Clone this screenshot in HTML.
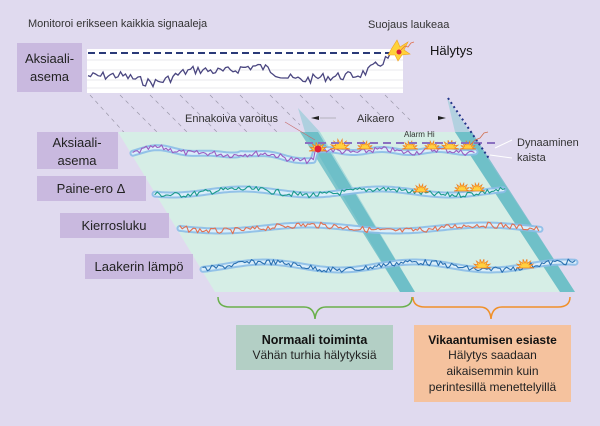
<!DOCTYPE html>
<html><head><meta charset="utf-8">
<style>
html,body{margin:0;padding:0;background:#e0daef;}
svg{display:block;font-family:"Liberation Sans",sans-serif;}
</style></head>
<body>
<svg id="s" width="600" height="426" viewBox="0 0 600 426" xmlns="http://www.w3.org/2000/svg">
<rect width="600" height="426" fill="#e0daef"/>
<g stroke="#9a97a8" stroke-width="0.7" stroke-dasharray="4,4" fill="none">
<line x1="90" y1="95" x2="140" y2="150"/>
<line x1="120" y1="95" x2="175" y2="150"/>
<line x1="150" y1="95" x2="205" y2="150"/>
<line x1="180" y1="95" x2="235" y2="150"/>
<line x1="210" y1="95" x2="265" y2="150"/>
<line x1="240" y1="95" x2="280" y2="135"/>
<line x1="270" y1="95" x2="300" y2="125"/>
<line x1="300" y1="95" x2="315" y2="110"/>
<line x1="330" y1="95" x2="345" y2="110"/>
<line x1="360" y1="95" x2="380" y2="115"/>
<line x1="385" y1="95" x2="410" y2="120"/>
</g>
<rect x="87" y="49" width="316" height="44" fill="#fff"/>
<g stroke="#e3e3e8" stroke-width="0.7">
<line x1="87" y1="60" x2="403" y2="60"/><line x1="87" y1="70" x2="403" y2="70"/><line x1="87" y1="80" x2="403" y2="80"/><line x1="87" y1="88" x2="403" y2="88"/>
</g>
<line x1="88" y1="53" x2="398" y2="53" stroke="#2a3a78" stroke-width="2" stroke-dasharray="7,4"/>
<path id="topw" fill="none" stroke="#4a4680" stroke-width="1.3"/>
<polygon points="392,48 397,40 400,47 408,42 404,50 410,54 402,55 398,61 395,55 388,55" fill="#ffd23a" stroke="#f0a020" stroke-width="0.6"/>
<circle cx="399" cy="52" r="2.5" fill="#d8203a"/>
<polyline points="401,50 405,46 408,47 411,43 414,42" fill="none" stroke="#e07050" stroke-width="0.8"/>
<rect x="17" y="43" width="65" height="49" fill="#c9b9df"/>
<text x="49.5" y="63" font-size="13" text-anchor="middle" fill="#222">Aksiaali-</text>
<text x="49.5" y="81" font-size="13" text-anchor="middle" fill="#222">asema</text>
<text x="28" y="27" font-size="11" fill="#333">Monitoroi erikseen kaikkia signaaleja</text>
<text x="368" y="28" font-size="11" fill="#333">Suojaus laukeaa</text>
<text x="430" y="55" font-size="13" fill="#111">Hälytys</text>
<polygon points="118,132 470,132 575,292 215,292" fill="#d6eee6"/>
<polygon points="298,108 320,132 415,292 400,292 305,132" fill="#7cc6cf" opacity="0.5"/>
<polygon points="300,132 318,132 415,292 400,292" fill="#4fb0bf" opacity="0.65"/>
<polygon points="447,98 470,132 575,292 560,292 455,132" fill="#7cc6cf" opacity="0.45"/>
<polygon points="455,132 472,132 575,292 560,292" fill="#4fb0bf" opacity="0.65"/>
<g id="waves"></g>
<line x1="305" y1="143" x2="500" y2="143" stroke="#8a70c0" stroke-width="2" stroke-dasharray="8,5"/>
<line x1="448" y1="98" x2="490" y2="160" stroke="#23348a" stroke-width="2" stroke-dasharray="2,3"/>
<circle cx="318" cy="149" r="3.5" fill="#e0203a"/>
<line x1="285" y1="122" x2="315" y2="140" stroke="#c86a6a" stroke-width="0.6"/>
<polyline points="470,145 475,140 480,138 484,133 488,132" fill="none" stroke="#d07050" stroke-width="0.8"/>
<text x="185" y="122" font-size="11" fill="#333">Ennakoiva varoitus</text>
<text x="357" y="122" font-size="11" fill="#333">Aikaero</text>
<path d="M311,118 l8,-2 v4 z M446,118 l-8,-2 v4 z" fill="#222"/>
<line x1="320" y1="118" x2="336" y2="118" stroke="#888" stroke-width="0.5"/>
<text x="404" y="137" font-size="8" fill="#333">Alarm Hi</text>
<text x="517" y="146" font-size="11" fill="#333">Dynaaminen</text>
<text x="517" y="161" font-size="11" fill="#333">kaista</text>
<line x1="495" y1="148" x2="512" y2="140" stroke="#fff" stroke-width="1"/>
<line x1="490" y1="155" x2="512" y2="158" stroke="#fff" stroke-width="1"/>
<g fill="#c9b9df">
<rect x="37" y="132" width="81" height="37"/>
<rect x="37" y="176" width="109" height="25"/>
<rect x="60" y="213" width="109" height="25"/>
<rect x="85" y="254" width="108" height="25"/>
</g>
<g font-size="13" fill="#222" text-anchor="middle">
<text x="77" y="147">Aksiaali-</text><text x="77" y="165">asema</text>
<text x="91" y="193">Paine-ero Δ</text>
<text x="114" y="230">Kierrosluku</text>
<text x="139" y="271">Laakerin lämpö</text>
</g>
<path d="M218,297 q0,10 12,10 h74 q10,0 11,12 q1,-12 11,-12 h74 q12,0 12,-10" fill="none" stroke="#6ab04c" stroke-width="1.5"/>
<path d="M413,297 q0,10 12,10 h55 q10,0 11,12 q1,-12 11,-12 h56 q12,0 12,-10" fill="none" stroke="#f0902a" stroke-width="1.5"/>
<rect x="236" y="325" width="157" height="45" fill="#b3cfc5"/>
<text x="314.5" y="344" font-size="12.5" text-anchor="middle" fill="#111" font-weight="bold">Normaali toiminta</text>
<text x="314.5" y="359" font-size="12" text-anchor="middle" fill="#222">Vähän turhia hälytyksiä</text>
<rect x="414" y="325" width="157" height="77" fill="#f5c29e"/>
<g font-size="12" text-anchor="middle" fill="#222">
<text x="492.5" y="344" font-weight="bold" fill="#111">Vikaantumisen esiaste</text>
<text x="492.5" y="359">Hälytys saadaan</text>
<text x="492.5" y="375">aikaisemmin kuin</text>
<text x="492.5" y="391">perintesillä menettelyillä</text>
</g>
</svg>
<script>
(function(){
var seed=7;function r(){seed=(seed*9301+49297)%233280;return seed/233280;}
function wave(x0,x1,base,amp,step){var d="";for(var x=x0;x<=x1;x+=step){var y=base(x)+(r()-0.5)*amp;d+=(d?"L":"M")+x.toFixed(1)+","+y.toFixed(1);}return d;}
var ns="http://www.w3.org/2000/svg";
document.getElementById("topw").setAttribute("d",wave(88,398,function(x){return 74-6*Math.sin(x/30)-(x>330?(x-330)*0.2:0)+3*Math.sin(x/11);},9,2.5));
var g=document.getElementById("waves");
function add(d,c,w,o){var p=document.createElementNS(ns,"path");p.setAttribute("d",d);p.setAttribute("fill","none");p.setAttribute("stroke",c);p.setAttribute("stroke-width",w);p.setAttribute("stroke-linejoin","round");p.setAttribute("stroke-linecap","round");if(o)p.setAttribute("opacity",o);g.appendChild(p);}
function b1(x){var y;if(x<240)y=152-3*Math.sin((x-133)/18);else if(x<315)y=152+(x-240)*0.12;else y=151;return y+1.5*Math.sin(x/9);}
var rows=[
 {x0:133,x1:475,b:b1,c:"#9a5cc0"},
 {x0:155,x1:505,b:function(x){return 192+3*Math.sin(x/22);},c:"#1a9a8a"},
 {x0:180,x1:540,b:function(x){return 228+3*Math.sin(x/28);},c:"#e07050"},
 {x0:203,x1:575,b:function(x){return 266+4*Math.sin(x/24);},c:"#2a70b0"}];
rows.forEach(function(rw){
 var t="";for(var x=rw.x0;x<=rw.x1;x+=3){t+=(t?"L":"M")+x+","+rw.b(x).toFixed(1);}
 add(t,"#8cbce8",7,0.9);add(t,"#dbeefa",3);
 add(wave(rw.x0,rw.x1,rw.b,6,2.2),rw.c,1.1);
});
function star(cx,cy,s){var pts="";var n=7;for(var i=0;i<=2*n;i++){var a=Math.PI*i/(2*n),rr=(i%2?0.55:1)*s;pts+=(cx+rr*Math.cos(a)).toFixed(1)+","+(cy-rr*Math.sin(a)).toFixed(1)+" ";}var p=document.createElementNS(ns,"polygon");p.setAttribute("points",pts);p.setAttribute("fill","#ffd040");p.setAttribute("stroke","#f08020");p.setAttribute("stroke-width","0.7");g.appendChild(p);}
[[318,151,9],[340,149,10],[365,149,8],[410,149,8],[432,149,8],[450,149,9],[468,149,8],[421,192,8],[462,191,8],[477,191,8],[482,268,9],[525,268,9]].forEach(function(s){star(s[0],s[1],s[2]);});
})();
</script>
</body></html>
